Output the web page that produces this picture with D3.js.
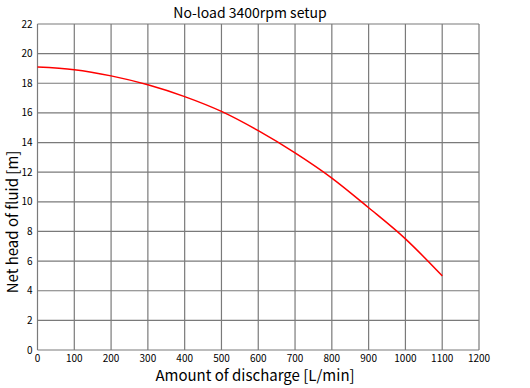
<!DOCTYPE html>
<html>
<head>
<meta charset="utf-8">
<script src="https://cdn.jsdelivr.net/npm/d3@7"></script>
<style>
  body { margin: 0; background: #fff; }
  svg text { font-family: "Noto Sans CJK JP", "DejaVu Sans", sans-serif; fill: #000; }
</style>
</head>
<body>
<svg id="chart" width="530" height="388"></svg>
<script>
const flow = [0, 100, 200, 300, 400, 500, 600, 700, 800, 900, 1000, 1100];
const head = [19.1, 18.92, 18.5, 17.9, 17.1, 16.1, 14.8, 13.3, 11.6, 9.6, 7.5, 5.0];
const xTicks = d3.range(0, 1201, 100);
const yTicks = d3.range(0, 23, 2);

const svg = d3.select("#chart");
const margin = { top: 24, right: 51, bottom: 38, left: 37.5 };
const width = 530, height = 388;

// scales in page coordinates
const x = d3.scaleLinear().domain([0, 1200]).range([margin.left, width - margin.right]);
const y = d3.scaleLinear().domain([0, 22]).range([height - margin.bottom, margin.top]);

// grid
svg.append("g").selectAll("line").data(xTicks).join("line")
  .attr("x1", d => x(d)).attr("x2", d => x(d))
  .attr("y1", y(22)).attr("y2", y(0))
  .attr("stroke", "#7a7a7a").attr("stroke-width", 1.2);

svg.append("g").selectAll("line").data(yTicks).join("line")
  .attr("x1", x(0)).attr("x2", x(1200))
  .attr("y1", d => y(d)).attr("y2", d => y(d))
  .attr("stroke", "#7a7a7a").attr("stroke-width", 1.2);

// tick labels
svg.append("g").selectAll("text").data(yTicks).join("text")
  .attr("x", x(0) - 5).attr("y", d => y(d) + 3.5)
  .attr("text-anchor", "end")
  .style("font-size", "10px")
  .text(d => d);

svg.append("g").selectAll("text").data(xTicks).join("text")
  .attr("x", d => x(d)).attr("y", y(0) + 12)
  .attr("text-anchor", "middle")
  .style("font-size", "10px")
  .text(d => d);

// curve
const line = d3.line()
  .x((d, i) => x(flow[i]))
  .y(d => y(d))
  .curve(d3.curveMonotoneX);

svg.append("path")
  .datum(head)
  .attr("fill", "none")
  .attr("stroke", "#ff0000")
  .attr("stroke-width", 1.5)
  .attr("d", line);

// titles
svg.append("text")
  .attr("x", 250).attr("y", 18)
  .attr("text-anchor", "middle")
  .style("font-size", "14px")
  .text("No-load 3400rpm setup");

svg.append("text")
  .attr("x", 255).attr("y", 381)
  .attr("text-anchor", "middle")
  .style("font-size", "15px")
  .text("Amount of discharge [L/min]");

svg.append("text")
  .attr("transform", "rotate(-90)")
  .attr("x", -222).attr("y", 18)
  .attr("text-anchor", "middle")
  .style("font-size", "15px")
  .text("Net head of fluid [m]");
</script>
</body>
</html>
